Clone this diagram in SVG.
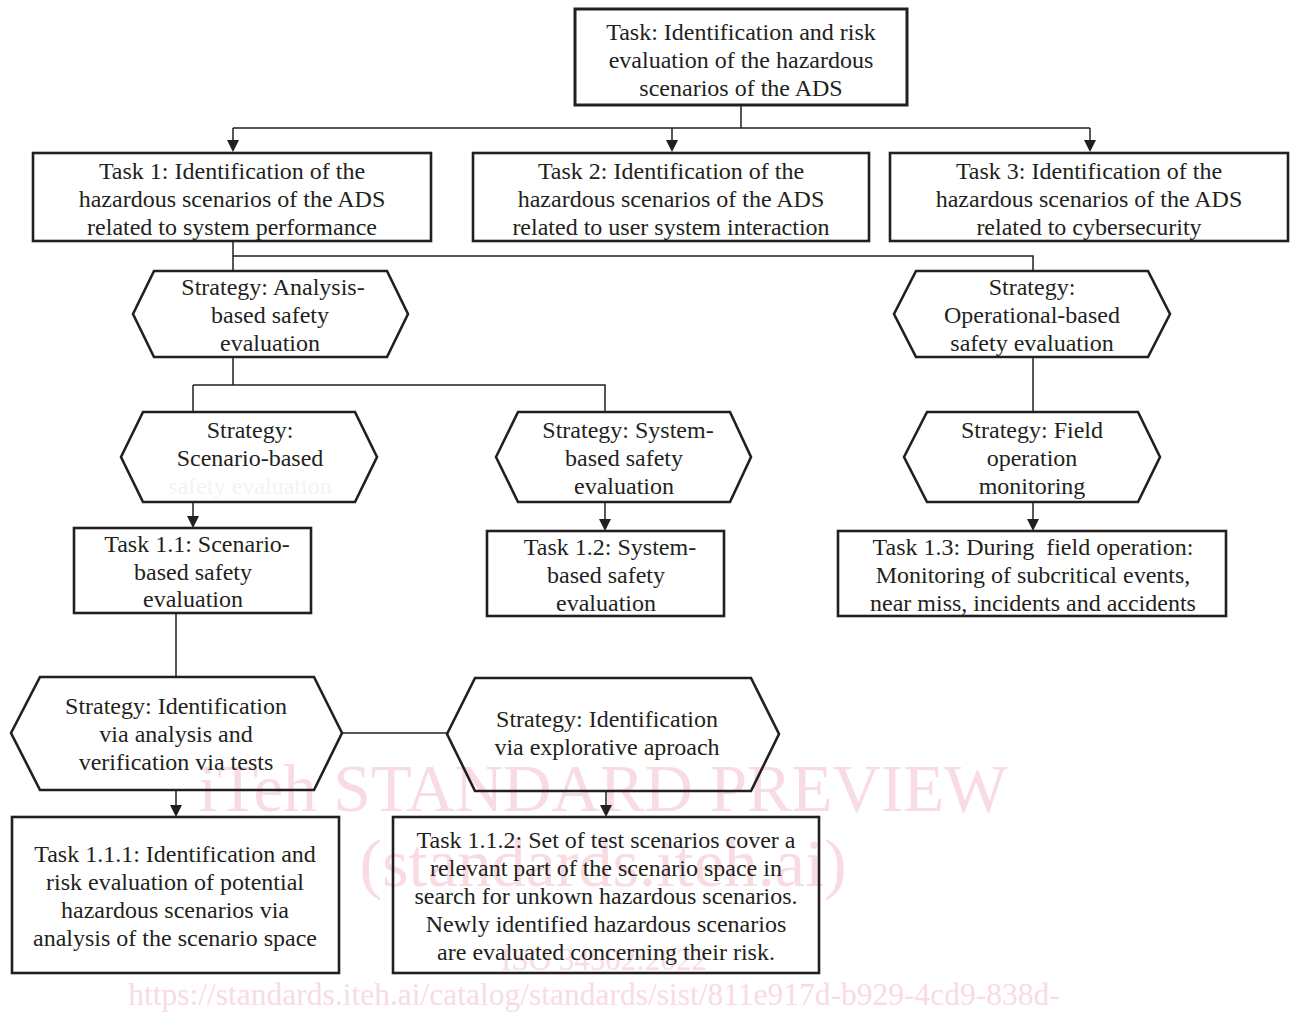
<svg xmlns="http://www.w3.org/2000/svg" width="1293" height="1012" viewBox="0 0 1293 1012">
<style>
  .bx { fill: none; stroke: #231f20; stroke-width: 2.6; }
  .hx { fill: none; stroke: #231f20; stroke-width: 2.6; stroke-linejoin: miter; }
  .cn { fill: none; stroke: #231f20; stroke-width: 1.5; }
  .ah { fill: #231f20; stroke: none; }
  .t { font-family: "Liberation Serif", "Times New Roman", serif; font-size: 24px; fill: #231f20; text-anchor: middle; }
  .faint { fill: #f3f3f3; }
  .wm { font-family: "Liberation Serif", "Times New Roman", serif; fill: #f9dbe2; text-anchor: middle; }
</style>
<rect width="1293" height="1012" fill="#ffffff"/>

<g id="watermark">
  <text class="wm" x="603" y="811" font-size="67">iTeh STANDARD PREVIEW</text>
  <text class="wm" x="603" y="886" font-size="68">(standards.iteh.ai)</text>
  <text class="wm" x="604" y="970" font-size="31">ISO 34502:2022</text>
  <text class="wm" x="594" y="1005" font-size="31.5">https://standards.iteh.ai/catalog/standards/sist/811e917d-b929-4cd9-838d-</text>
</g>

<g id="connectors">
  <path class="cn" d="M741,105 V128 M233,128 H1090"/>
  <path class="cn" d="M233,241 V271 M233,256 H1033 V271"/>
  <path class="cn" d="M233,357 V385 M193,385 H605 V412 M193,385 V412"/>
  <path class="cn" d="M1033,357 V412"/>
  <path class="cn" d="M176,613 V677"/>
  <path class="cn" d="M342,733 H447"/>
  <path class="cn" d="M233,128 V142"/><path class="ah" d="M227,140 L239,140 L233,152 Z"/>
  <path class="cn" d="M672,128 V142"/><path class="ah" d="M666,140 L678,140 L672,152 Z"/>
  <path class="cn" d="M1090,128 V142"/><path class="ah" d="M1084,140 L1096,140 L1090,152 Z"/>
  <path class="cn" d="M193,502 V518"/><path class="ah" d="M187,516 L199,516 L193,528 Z"/>
  <path class="cn" d="M605,502 V521"/><path class="ah" d="M599,519 L611,519 L605,531 Z"/>
  <path class="cn" d="M1033,502 V521"/><path class="ah" d="M1027,519 L1039,519 L1033,531 Z"/>
  <path class="cn" d="M176,790 V807"/><path class="ah" d="M170,805 L182,805 L176,817 Z"/>
  <path class="cn" d="M606,791 V807"/><path class="ah" d="M600,805 L612,805 L606,817 Z"/>
</g>

<g id="task-root">
  <rect class="bx" x="575" y="9" width="332" height="96" style="stroke-width:3"/>
  <text class="t" x="741" y="40">Task: Identification and risk</text>
  <text class="t" x="741" y="68">evaluation of the hazardous</text>
  <text class="t" x="741" y="96">scenarios of the ADS</text>
</g>

<g id="task-1">
  <rect class="bx" x="33" y="153" width="398" height="88"/>
  <text class="t" x="232" y="179">Task 1: Identification of the</text>
  <text class="t" x="232" y="207">hazardous scenarios of the ADS</text>
  <text class="t" x="232" y="235">related to system performance</text>
</g>

<g id="task-2">
  <rect class="bx" x="473" y="153" width="396" height="88"/>
  <text class="t" x="671" y="179">Task 2: Identification of the</text>
  <text class="t" x="671" y="207">hazardous scenarios of the ADS</text>
  <text class="t" x="671" y="235">related to user system interaction</text>
</g>

<g id="task-3">
  <rect class="bx" x="890" y="153" width="398" height="88"/>
  <text class="t" x="1089" y="179">Task 3: Identification of the</text>
  <text class="t" x="1089" y="207">hazardous scenarios of the ADS</text>
  <text class="t" x="1089" y="235">related to cybersecurity</text>
</g>

<g id="strategy-analysis">
  <polygon class="hx" points="133,314 154,271 387,271 408,314 387,357 154,357"/>
  <text class="t" x="273" y="295">Strategy: Analysis-</text>
  <text class="t" x="270" y="323">based safety</text>
  <text class="t" x="270" y="351">evaluation</text>
</g>

<g id="strategy-operational">
  <polygon class="hx" points="894,314 916,271 1148,271 1170,314 1148,357 916,357"/>
  <text class="t" x="1032" y="295">Strategy:</text>
  <text class="t" x="1032" y="323">Operational-based</text>
  <text class="t" x="1032" y="351">safety evaluation</text>
</g>

<g id="strategy-scenario">
  <polygon class="hx" points="121,457 143,412 355,412 377,457 355,502 143,502"/>
  <text class="t" x="250" y="438">Strategy:</text>
  <text class="t" x="250" y="466">Scenario-based</text>
  <text class="t faint" x="250" y="494">safety evaluation</text>
</g>

<g id="strategy-system">
  <polygon class="hx" points="496,457 518,412 730,412 751,457 730,502 518,502"/>
  <text class="t" x="628" y="438">Strategy: System-</text>
  <text class="t" x="624" y="466">based safety</text>
  <text class="t" x="624" y="494">evaluation</text>
</g>

<g id="strategy-field">
  <polygon class="hx" points="904,457 927,412 1138,412 1160,457 1138,502 927,502"/>
  <text class="t" x="1032" y="438">Strategy: Field</text>
  <text class="t" x="1032" y="466">operation</text>
  <text class="t" x="1032" y="494">monitoring</text>
</g>

<g id="task-1-1">
  <rect class="bx" x="74" y="528" width="237" height="85"/>
  <text class="t" x="197" y="552">Task 1.1: Scenario-</text>
  <text class="t" x="193" y="580">based safety</text>
  <text class="t" x="193" y="607">evaluation</text>
</g>

<g id="task-1-2">
  <rect class="bx" x="487" y="531" width="237" height="85"/>
  <text class="t" x="610" y="555">Task 1.2: System-</text>
  <text class="t" x="606" y="583">based safety</text>
  <text class="t" x="606" y="611">evaluation</text>
</g>

<g id="task-1-3">
  <rect class="bx" x="838" y="531" width="388" height="85"/>
  <text class="t" x="1033" y="555">Task 1.3: During&#160; field operation:</text>
  <text class="t" x="1033" y="583">Monitoring of subcritical events,</text>
  <text class="t" x="1033" y="611">near miss, incidents and accidents</text>
</g>

<g id="strategy-ident-analysis">
  <polygon class="hx" points="11,733 40,677 314,677 342,733 314,790 40,790"/>
  <text class="t" x="176" y="714">Strategy: Identification</text>
  <text class="t" x="176" y="742">via analysis and</text>
  <text class="t" x="176" y="770">verification via tests</text>
</g>

<g id="strategy-ident-explorative">
  <polygon class="hx" points="447,734 475,678 751,678 779,734 751,791 475,791"/>
  <text class="t" x="607" y="727">Strategy: Identification</text>
  <text class="t" x="607" y="755">via explorative aproach</text>
</g>

<g id="task-1-1-1">
  <rect class="bx" x="12" y="817" width="327" height="156"/>
  <text class="t" x="175" y="862">Task 1.1.1: Identification and</text>
  <text class="t" x="175" y="890">risk evaluation of potential</text>
  <text class="t" x="175" y="918">hazardous scenarios via</text>
  <text class="t" x="175" y="946">analysis of the scenario space</text>
</g>

<g id="task-1-1-2">
  <rect class="bx" x="393" y="817" width="426" height="156"/>
  <text class="t" x="606" y="848">Task 1.1.2: Set of test scenarios cover a</text>
  <text class="t" x="606" y="876">relevant part of the scenario space in</text>
  <text class="t" x="606" y="904">search for unkown hazardous scenarios.</text>
  <text class="t" x="606" y="932">Newly identified hazardous scenarios</text>
  <text class="t" x="606" y="960">are evaluated concerning their risk.</text>
</g>
</svg>
